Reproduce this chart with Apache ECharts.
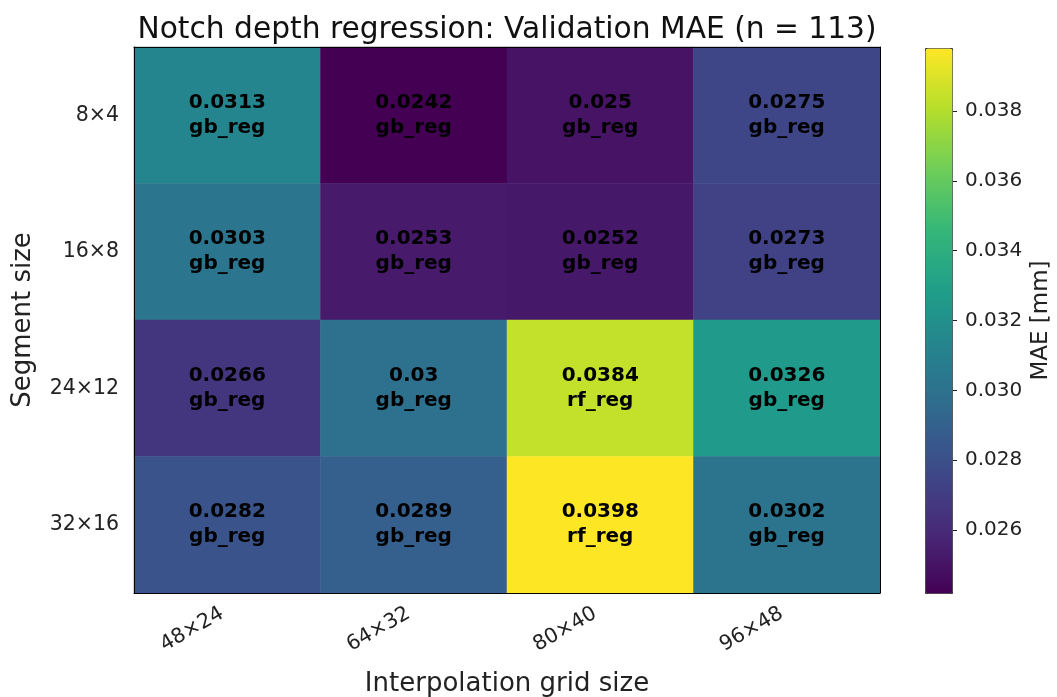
<!DOCTYPE html>
<html>
<head>
<meta charset="utf-8">
<script src="https://cdn.jsdelivr.net/npm/echarts@6/dist/echarts.min.js"></script>
<style>
  html, body { margin: 0; padding: 0; background: #fff; }
  #chart { width: 1057px; height: 697px; }
</style>
</head>
<body>
<div id="chart"></div>
<script>
var gridSizes = ['48×24', '64×32', '80×40', '96×48'];
var segmentSizes = ['8×4', '16×8', '24×12', '32×16'];

// rows follow segmentSizes, columns follow gridSizes
var maeRows = [
    [0.0313, 0.0242, 0.025, 0.0275],
    [0.0303, 0.0253, 0.0252, 0.0273],
    [0.0266, 0.03, 0.0384, 0.0326],
    [0.0282, 0.0289, 0.0398, 0.0302]
];
var bestModel = [
    ['gb_reg', 'gb_reg', 'gb_reg', 'gb_reg'],
    ['gb_reg', 'gb_reg', 'gb_reg', 'gb_reg'],
    ['gb_reg', 'gb_reg', 'rf_reg', 'gb_reg'],
    ['gb_reg', 'gb_reg', 'rf_reg', 'gb_reg']
];
var colorTicks = [0.026, 0.028, 0.030, 0.032, 0.034, 0.036, 0.038];
var maeMin = 0.0242, maeMax = 0.0398;

var viridis = ['#440154', '#482878', '#3e4989', '#31688e', '#26828e',
               '#1f9e89', '#35b779', '#6ece58', '#b5de2b', '#fde725'];

var cells = [];
maeRows.forEach((row, r) => {
    row.forEach((v, c) => {
        cells.push([c, r, v, bestModel[r][c]]);
    });
});

var font = 'DejaVu Sans';
var chart = echarts.init(document.getElementById('chart'));

var option = {
    animation: false,
    textStyle: { fontFamily: font },
    title: {
        text: 'Notch depth regression: Validation MAE (n = 113)',
        left: 502,
        textAlign: 'center',
        top: 10,
        textStyle: { fontFamily: font, fontSize: 29.7, fontWeight: 'normal', color: '#111' }
    },
    grid: [
        { left: 134, width: 746, top: 47, height: 546, outerBoundsMode: 'none' },
        { left: 925, width: 27, top: 48, height: 545, outerBoundsMode: 'none' }
    ],
    xAxis: [
        {
            type: 'category', gridIndex: 0, data: gridSizes, position: 'bottom', z: 10,
            name: 'Interpolation grid size', nameLocation: 'middle', nameGap: 78,
            nameTextStyle: { fontSize: 26, color: '#222' },
            axisLine: { lineStyle: { color: '#000', width: 1 } },
            axisTick: { alignWithLabel: true, length: 6, lineStyle: { color: '#000' } },
            axisLabel: { rotate: 30, fontSize: 20.5, color: '#222', margin: 16, padding: [0, 6, 0, 0] },
            splitLine: { show: false }
        },
        {
            type: 'category', gridIndex: 0, data: gridSizes, position: 'top', z: 10,
            axisLine: { lineStyle: { color: '#000', width: 1 } },
            axisTick: { show: false }, axisLabel: { show: false }
        },
        { type: 'category', gridIndex: 1, data: [''], show: false }
    ],
    yAxis: [
        {
            type: 'category', gridIndex: 0, data: segmentSizes, inverse: true, z: 10,
            name: 'Segment size', nameLocation: 'middle', nameGap: 98,
            nameTextStyle: { fontSize: 26, color: '#222' },
            axisLine: { lineStyle: { color: '#000', width: 1 } },
            axisTick: { alignWithLabel: true, length: 6, lineStyle: { color: '#000' } },
            axisLabel: { fontSize: 20.5, color: '#222', margin: 15 },
            splitLine: { show: false }
        },
        {
            type: 'category', gridIndex: 0, data: segmentSizes, inverse: true, position: 'right', z: 10,
            axisLine: { lineStyle: { color: '#000', width: 1 } },
            axisTick: { show: false }, axisLabel: { show: false }
        },
        {
            type: 'value', gridIndex: 1, position: 'right', min: maeMin, max: maeMax,
            name: 'MAE [mm]', nameLocation: 'middle', nameGap: 78, nameRotate: 90,
            nameTextStyle: { fontSize: 23, color: '#222' },
            axisLine: { show: false },
            splitLine: { show: false },
            axisTick: { show: true, length: 5, customValues: colorTicks, lineStyle: { color: '#222' } },
            axisLabel: {
                fontSize: 20, color: '#222', margin: 13, customValues: colorTicks,
                formatter: v => v.toFixed(3)
            }
        }
    ],
    visualMap: {
        type: 'continuous',
        seriesIndex: 0,
        dimension: 2,
        min: maeMin,
        max: maeMax,
        left: 925,
        top: 48,
        itemWidth: 27,
        itemHeight: 545,
        padding: 0,
        text: null,
        showLabel: false,
        calculable: false,
        hoverLink: false,
        borderWidth: 1,
        borderColor: '#333',
        inRange: { color: viridis }
    },
    series: [
        {
            type: 'heatmap',
            xAxisIndex: 0,
            yAxisIndex: 0,
            data: cells,
            label: {
                show: true,
                color: '#000',
                fontFamily: font,
                fontWeight: 'bold',
                fontSize: 20,
                lineHeight: 25,
                formatter: p => p.data[2] + '\n' + p.data[3]
            },
            emphasis: { disabled: true }
        }
    ]
};

chart.setOption(option);
</script>
</body>
</html>
